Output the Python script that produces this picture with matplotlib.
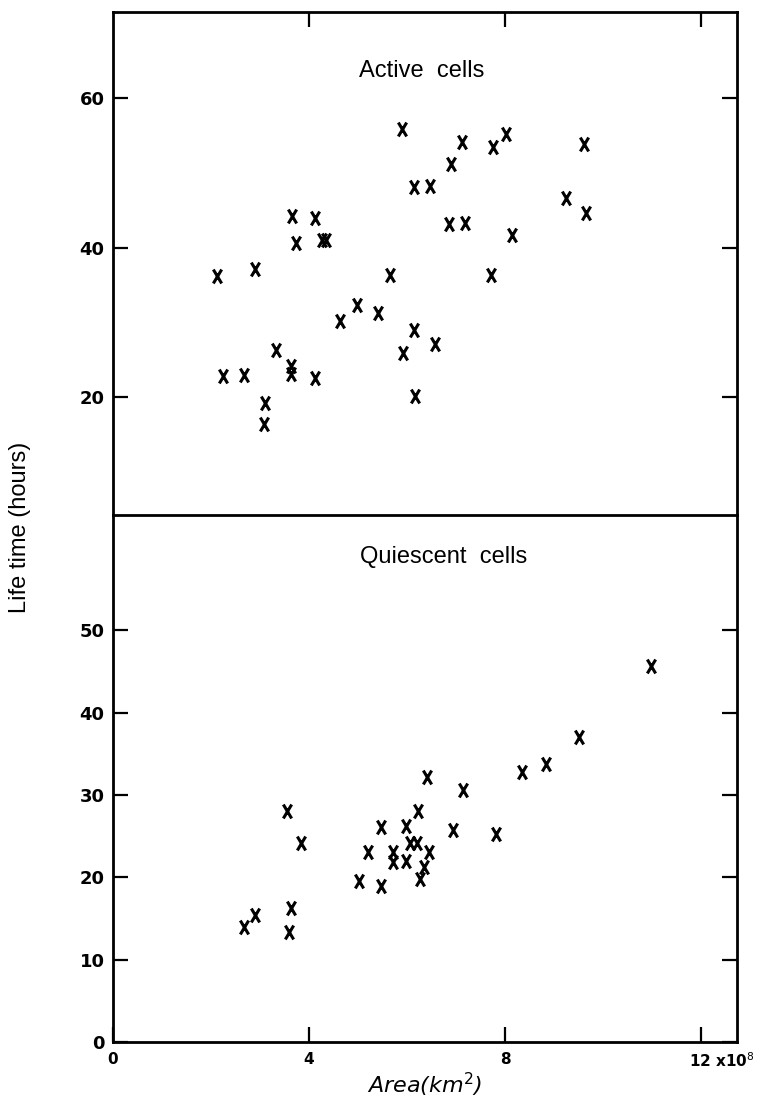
import matplotlib
matplotlib.use('Agg')
import matplotlib.pyplot as plt
import matplotlib.transforms as mtransforms
from matplotlib.path import Path

# Active cells (area in 1e8 km^2, life time in hours)
active_area = [5.89, 7.12, 7.75, 8.02, 9.60, 6.90, 6.14, 6.46, 9.25, 9.66,
               3.65, 4.12, 3.74, 4.27, 4.35, 6.86, 7.19, 8.15, 2.13, 2.90,
               5.65, 7.71, 4.98, 4.64, 5.41, 6.14, 6.57, 3.33, 5.92, 3.63,
               3.63, 2.25, 2.68, 4.12, 3.10, 3.09, 6.16]
active_life = [55.9, 54.1, 53.5, 55.2, 53.9, 51.2, 48.1, 48.3, 46.7, 44.6,
               44.2, 44.0, 40.7, 41.1, 41.0, 43.2, 43.3, 41.7, 36.2, 37.1,
               36.3, 36.4, 32.4, 30.2, 31.3, 29.0, 27.1, 26.3, 25.9, 24.2,
               23.1, 22.9, 23.0, 22.6, 19.2, 16.4, 20.2]

# Quiescent cells
quiet_area = [10.97, 9.51, 8.84, 8.34, 6.40, 7.15, 3.55, 6.22, 5.46, 5.97,
              6.93, 7.82, 3.83, 6.05, 6.20, 5.21, 5.72, 6.45, 5.71, 5.98,
              6.35, 5.01, 5.46, 6.26, 3.64, 2.90, 2.67, 3.60]
quiet_life = [45.7, 37.0, 33.8, 32.8, 32.2, 30.6, 28.1, 28.1, 26.1, 26.2,
              25.8, 25.2, 24.2, 24.2, 24.2, 23.1, 23.1, 23.1, 21.9, 22.0,
              21.3, 19.6, 18.9, 19.8, 16.3, 15.4, 14.0, 13.3]

active_yticks = [20, 40, 60]
quiet_yticks = [0, 10, 20, 30, 40, 50]
xticks = [0, 4, 8, 12]
xtick_labels = ['0', '4', '8', '12 x10$^8$']

# tall narrow "x" marker like the hand drawn crosses
cross = Path([(-0.6, -1), (0.6, 1), (-0.6, 1), (0.6, -1)],
             [Path.MOVETO, Path.LINETO, Path.MOVETO, Path.LINETO])

fig = plt.figure(figsize=(7.6, 10.99), dpi=100)
ax_top = fig.add_axes([0.1487, 0.5314, 0.821, 0.4577])
ax_bot = fig.add_axes([0.1487, 0.0519, 0.821, 0.4795])

tick_font = {'family': 'DejaVu Sans', 'weight': 'bold', 'size': 13}

for ax in (ax_top, ax_bot):
    ax.set_xlim(0, 12.73)
    for s in ax.spines.values():
        s.set_linewidth(2)
    ax.tick_params(direction='in', length=11, width=1.6, pad=6)

# top panel
ax_top.plot(active_area, active_life, linestyle='none', marker=cross,
            markersize=10, markeredgewidth=2.2, color='black')
ax_top.set_ylim(4.3, 71.5)
ax_top.set_yticks(active_yticks)
ax_top.set_yticklabels([str(v) for v in active_yticks], fontdict=tick_font)
ax_top.set_xticks(xticks[1:])
ax_top.tick_params(axis='x', bottom=False, top=True, labelbottom=False)
ax_top.tick_params(axis='y', right=True)
ax_top.spines['bottom'].set_visible(False)
ax_top.text(0.495, 0.883, 'Active  cells', transform=ax_top.transAxes,
            ha='center', va='center', fontsize=17, family='Liberation Sans')

# bottom panel
ax_bot.plot(quiet_area, quiet_life, linestyle='none', marker=cross,
            markersize=10, markeredgewidth=2.2, color='black')
ax_bot.set_ylim(0, 64)
ax_bot.set_yticks(quiet_yticks)
ax_bot.set_yticklabels([str(v) for v in quiet_yticks], fontdict=tick_font)
ax_bot.set_xticks(xticks)
ax_bot.set_xticklabels(xtick_labels, fontdict={'family': 'DejaVu Sans',
                                               'weight': 'bold', 'size': 11})
ax_bot.tick_params(axis='x', pad=7)
ax_bot.tick_params(axis='y', right=True)
last = ax_bot.get_xticklabels()[-1]
last.set_horizontalalignment('left')
last.set_transform(last.get_transform() +
                   mtransforms.ScaledTranslation(-0.12, 0, fig.dpi_scale_trans))
ax_bot.text(0.53, 0.92, 'Quiescent  cells', transform=ax_bot.transAxes,
            ha='center', va='center', fontsize=17, family='Liberation Sans')
ax_bot.set_xlabel('Area(km$^2$)', fontsize=16, style='italic', labelpad=0)

fig.text(0.026, 0.52, 'Life time (hours)', rotation=90, ha='center',
         va='center', fontsize=17, family='Liberation Sans')

plt.savefig('out.png', dpi=100)
